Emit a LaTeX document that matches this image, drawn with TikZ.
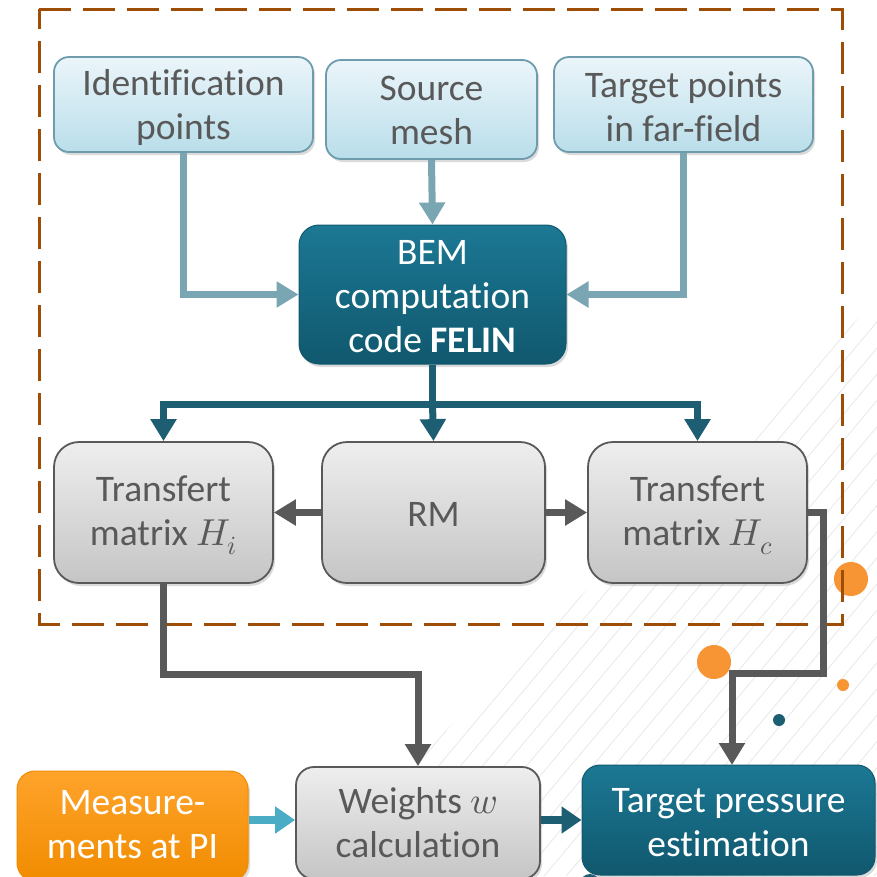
\documentclass[tikz,border=0pt]{standalone}
\usepackage{fontspec}
\usepackage{unicode-math}
\setmainfont[Ligatures=NoCommon]{Carlito}
\setmathfont{Latin Modern Math}
\usetikzlibrary{arrows.meta,shadows}

\definecolor{frameBrown}{HTML}{9E4D06}
\definecolor{txtGray}{HTML}{595959}
\definecolor{paleTop}{HTML}{EBF5FA}
\definecolor{paleBot}{HTML}{B9DEEA}
\definecolor{paleEdge}{HTML}{6E9CAC}
\definecolor{feedLine}{HTML}{7AA5B3}
\definecolor{tealTop}{HTML}{1C7894}
\definecolor{tealBot}{HTML}{10586E}
\definecolor{tealLine}{HTML}{1D5E73}
\definecolor{grayTop}{HTML}{EEEEEE}
\definecolor{grayBot}{HTML}{C5C5C5}
\definecolor{orangeTop}{HTML}{FFA32B}
\definecolor{orangeBot}{HTML}{F18C00}
\definecolor{dotOrange}{HTML}{F79433}
\definecolor{measLine}{HTML}{4BACC6}
\definecolor{hatchGray}{HTML}{E8E8E8}

\tikzset{
  txt/.style={font=\fontsize{37.5}{44}\selectfont, align=center, inner sep=0pt},
  boxshadow/.style={drop shadow={opacity=0.28, shadow xshift=2pt, shadow yshift=-3pt}},
  inputbox/.style={boxshadow, rounded corners=15pt, draw=paleEdge, line width=1.8pt,
    top color=paleTop, bottom color=paleBot},
  tealbox/.style={boxshadow, rounded corners=20pt, draw=tealBot, line width=1pt,
    top color=tealTop, bottom color=tealBot},
  graybox/.style={boxshadow, rounded corners=25pt, draw=txtGray, line width=1.8pt,
    top color=grayTop, bottom color=grayBot},
  orangebox/.style={boxshadow, rounded corners=18pt, draw=orangeBot, line width=1pt,
    top color=orangeTop, bottom color=orangeBot},
  darktext/.style={txt, text=txtGray},
  lighttext/.style={txt, text=white},
  conn/.style={line width=7pt, -{Triangle[width=25pt,length=22pt]}},
  feed/.style={conn, draw=feedLine},
  bus/.style={conn, draw=tealLine},
  flow/.style={conn, draw=txtGray},
}

\begin{document}
\begin{tikzpicture}[x=1pt,y=-1pt]
  \useasboundingbox (0,0) rectangle (877,876);
  \fill[white] (0,0) rectangle (877,876);

  % faint diagonal hatching in the lower right corner
  \begin{scope}
    \clip (300,876) -- (877,876) -- (877,300) -- cycle;
    \foreach \k in {0,...,44} {
      \draw[hatchGray, line width=0.8pt] (150+\k*22,900) -- (905+\k*22,0);
    }
  \end{scope}

  % decorative dots
  \fill[dotOrange] (851,579) circle (17);
  \fill[dotOrange] (714,662) circle (17);
  \fill[dotOrange] (843,685) circle (6);
  \fill[tealLine] (779,720) circle (6);
  \fill[dotOrange] (802,772) circle (6);
  \fill[tealLine] (590,884) circle (10);

  % dashed frame around the BEM stage
  \draw[frameBrown, line width=3pt, dash pattern=on 32pt off 12pt]
    (39,9) -- (842,9) -- (842,624) -- (39,624) -- cycle;

  % inputs
  \node[inputbox, minimum width=259pt, minimum height=95pt] (idp) at (183.5,104.5) {};
  \node[darktext] (idpT) at ([yshift=-3pt]idp.center) {Identification\\points};
  \node[inputbox, minimum width=211pt, minimum height=99pt] (src) at (431.5,109.5) {};
  \node[darktext] (srcT) at ([yshift=-1pt]src.center) {Source\\mesh};
  \node[inputbox, minimum width=259pt, minimum height=95pt] (far) at (683.5,104.5) {};
  \node[darktext] (farT) at ([yshift=-2pt]far.center) {Target points\\in far-field};

  % solver
  \node[tealbox, minimum width=267pt, minimum height=139pt] (bem) at (432.5,294.5) {};
  \node[lighttext] (bemT) at ([yshift=-2pt]bem.center) {BEM\\computation\\code \textbf{FELIN}};

  % transfer matrices
  \node[graybox, minimum width=219pt, minimum height=141pt] (hi) at (163.5,512.5) {};
  \node[darktext] (hiT) at ([yshift=-3pt]hi.center) {Transfert\\matrix $H_i$};
  \node[graybox, minimum width=223pt, minimum height=141pt] (rm) at (433.5,512.5) {};
  \node[darktext] (rmT) at ([yshift=-2pt]rm.center) {RM};
  \node[graybox, minimum width=219pt, minimum height=141pt] (hc) at (697.5,512.5) {};
  \node[darktext] (hcT) at ([yshift=-3pt]hc.center) {Transfert\\matrix $H_c$};

  % estimation chain
  \node[orangebox, minimum width=231pt, minimum height=110pt] (meas) at (132.5,826) {};
  \node[lighttext] (measT) at ([yshift=1pt]meas.center) {Measure-\\ments at PI};
  \node[graybox, rounded corners=18pt, minimum width=244pt, minimum height=112pt] (wts) at (418,823) {};
  \node[darktext] (wtsT) at (wts.center) {Weights $w$\\calculation};
  \node[tealbox, rounded corners=18pt, minimum width=293pt, minimum height=110pt] (tpe) at (728.5,820) {};
  \node[lighttext] (tpeT) at ([yshift=-3pt]tpe.center) {Target pressure\\estimation};

  % inputs into the solver
  \draw[feed] (idp.south) |- (bem.west);
  \draw[feed] (src.south) -- (bem.north);
  \draw[feed] (far.south) |- (bem.east);

  % solver outputs
  \coordinate (split) at (432.5,404);
  \draw[line width=7pt, tealLine] (bem.south) -- (split);
  \draw[bus] (split) -| (hi.north);
  \draw[bus] (split) -- (rm.north);
  \draw[bus] (split) -| (hc.north);

  % reciprocity to both matrices
  \draw[flow] (rm.west) -- (hi.east);
  \draw[flow] (rm.east) -- (hc.west);

  % matrices down to the estimation chain
  \draw[flow] (hi.south) -- (163.5,674) -| (wts.north);
  \coordinate (hcbend) at (823,673);
  \draw[flow] (hc.east) -| (hcbend) -| (732,765);

  % measurement chain
  \draw[line width=8pt, measLine, -{Triangle[width=26pt,length=20pt]}]
    (meas.east |- 0,820) -- (wts.west |- 0,820);
  \draw[line width=8pt, tealLine, -{Triangle[width=26pt,length=20pt]}]
    (wts.east |- 0,820) -- (tpe.west |- 0,820);
\end{tikzpicture}
\end{document}
